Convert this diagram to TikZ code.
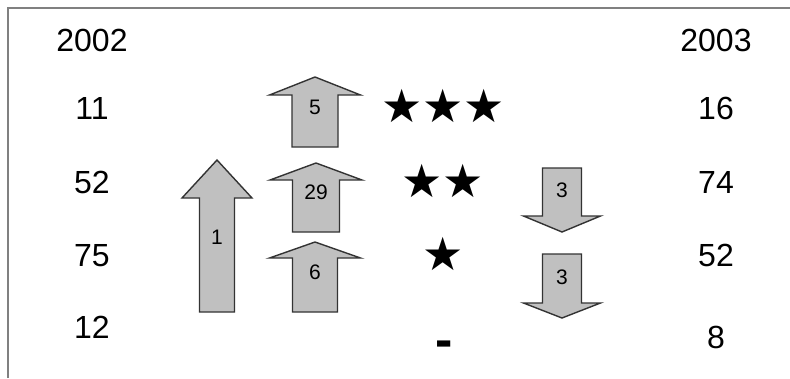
\documentclass[tikz,border=0pt]{standalone}
\usepackage{fontspec}
\setmainfont{Liberation Sans}
\newfontfamily\starfont{DejaVu Sans}

\definecolor{framegray}{HTML}{808080}
\definecolor{arrowfill}{HTML}{C0C0C0}
\definecolor{arrowedge}{HTML}{333333}

\tikzset{
  year/.style={font=\fontsize{32}{38}\selectfont, inner sep=0pt},
  rating/.style={font=\starfont\fontsize{46}{52}\selectfont, inner sep=0pt},
  movearrow/.style={fill=arrowfill, draw=arrowedge, line width=1.4pt, line join=miter},
  tag/.style={font=\fontsize{21}{25}\selectfont, inner sep=0pt}
}

\begin{document}
\begin{tikzpicture}[x=1pt,y=-1pt]
\useasboundingbox (0,0) rectangle (790,378);

% frame
\draw[framegray, line width=2pt] (8,378) -- (8,8) -- (790,8);

% year columns
\node[year] (y2002) at (92,40) {2002};
\node[year] (y2003) at (716,40) {2003};

\foreach \y/\a/\b/\yb/\n in {108/11/16/108/1, 182/52/74/182/2, 256/75/52/255/3, 327/12/8/337/4}
{
\node[year] (old\n) at (92,\y) {\a};
\node[year] (new\n) at (716,\yb) {\b};
}

% ratings
\node[rating] (stars3) at (443,106) {★★★};
\node[rating] (stars2) at (443,181) {★★};
\node[rating] (stars1) at (443,254) {★};
\node[year, font=\bfseries\fontsize{52}{58}\selectfont] (stars0) at (444,349) {-};

% arrows: centre x / tip y / wing y / head half width / shaft half width / tail y / label / label y / name
\foreach \x/\tip/\wing/\hw/\sw/\tail/\lbl/\ly/\name in {
  217/160/198/35/17.5/312/1/237/a,
  315/77/95/45.5/23/147/5/107/b,
  316/163/180/46/23.5/232/29/192/c,
  315/242/258/45.5/22.5/312/6/272/d,
  562/232/216/38.5/19.5/168/3/190/e,
  562/318/303/38.5/19.5/254/3/277/f}
{
\draw[movearrow] (\x-\sw,\tail) -- (\x-\sw,\wing) -- (\x-\hw,\wing) -- (\x,\tip)
  -- (\x+\hw,\wing) -- (\x+\sw,\wing) -- (\x+\sw,\tail) -- cycle;
\node[tag] (move-\name) at (\x,\ly) {\lbl};
}
\end{tikzpicture}
\end{document}
